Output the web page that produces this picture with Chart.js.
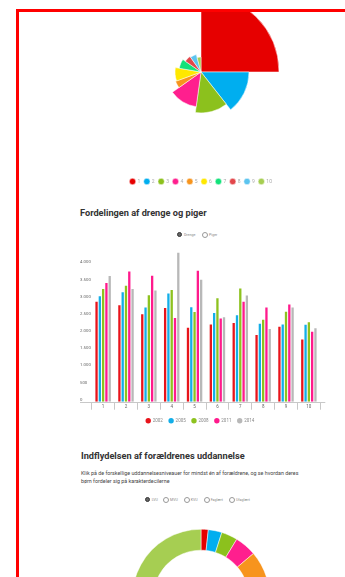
<!DOCTYPE html>
<html lang="da">
<head>
<meta charset="utf-8">
<script src="https://cdn.jsdelivr.net/npm/chart.js@4.4.1/dist/chart.umd.min.js"></script>
<style>
  html, body { margin: 0; padding: 0; background: #fff; }
  body { width: 345px; height: 577px; overflow: hidden; position: relative; font-family: Roboto, "Open Sans", sans-serif; }
  .frame { position: absolute; left: 16px; top: 9px; width: 420px; height: 700px; border-left: 3px solid #f00; border-top: 3px solid #f00; }
  .clip { position: absolute; left: 0; top: 12px; width: 345px; height: 190px; overflow: hidden; }
  #polar { position: absolute; left: 123px; top: -43px; }
  #bars { position: absolute; left: 76px; top: 245px; }
  #donut { position: absolute; left: 132px; top: 529px; }
  h2 { position: absolute; margin: 0; font-size: 9.2px; line-height: 10px; font-weight: 700; color: #333; white-space: nowrap; }
  p.lead { position: absolute; left: 81px; top: 468.5px; margin: 0; font-size: 5.35px; line-height: 8.3px; color: #444; white-space: nowrap; }
  .opt { position: absolute; font-size: 3.6px; line-height: 6px; color: #888; white-space: nowrap; }
  .opt i { position: absolute; left: -7px; top: 0; width: 4px; height: 4px; border-radius: 50%; border: 0.8px solid #999; background: #fff; }
  .opt i.on { border: 1.4px solid #333; background: #666; width: 3.2px; height: 3.2px; }
</style>
</head>
<body>
<div class="frame"></div>

<div class="clip"><canvas id="polar" width="156" height="225"></canvas></div>

<h2 style="left:80px; top:208px;">Fordelingen af drenge og piger</h2>
<span class="opt" style="left:184px; top:232px;"><i class="on"></i>Drenge</span>
<span class="opt" style="left:209px; top:232px;"><i></i>Piger</span>

<canvas id="bars" width="252" height="188"></canvas>

<h2 style="left:81px; top:450.7px;">Indflydelsen af forældrenes uddannelse</h2>
<p class="lead">Klik på de forskellige uddannelsesniveauer for mindst én af forældrene, og se hvordan deres<br>børn fordeler sig på karakterdecilerne</p>
<span class="opt" style="left:151.7px; top:497px;"><i class="on"></i>LVU</span>
<span class="opt" style="left:170px; top:497px;"><i></i>MVU</span>
<span class="opt" style="left:190.7px; top:497px;"><i></i>KVU</span>
<span class="opt" style="left:210.7px; top:497px;"><i></i>Faglært</span>
<span class="opt" style="left:236px; top:497px;"><i></i>Ufaglært</span>

<canvas id="donut" width="138" height="138"></canvas>

<script>
// Karakterdeciler 1-10 and their colours
const deciles = ['1', '2', '3', '4', '5', '6', '7', '8', '9', '10'];
const palette = ['#e60000', '#00aeef', '#8cc11d', '#ff1f8e', '#f7941d', '#ffe800', '#12e27a', '#e2474b', '#5cc4ef', '#a6ce52'];

// Top rose: share of the circle (percent) and size of each decile
const decileShare = [25, 14.4, 12.8, 13.0, 4.2, 8.3, 6.9, 5.6, 5.6, 4.2];
const decileSize = [39, 24, 20.5, 17.5, 13.5, 13, 11, 9.5, 9, 7.5];

// Drenge per decile, by year
const years = ['2002', '2005', '2008', '2011', '2014'];
const boys2002 = [2910, 2810, 2550, 2730, 2150, 2250, 2290, 1940, 2180, 1810];
const boys2005 = [3070, 3190, 2740, 3150, 2750, 2580, 2520, 2270, 2250, 2240];
const boys2008 = [3280, 3380, 3100, 3250, 2610, 3010, 3300, 2390, 2620, 2310];
const boys2011 = [3460, 3790, 3670, 2440, 3810, 2420, 2910, 2740, 2830, 2040];
const boys2014 = [3660, 3280, 3240, 4340, 3550, 2460, 3090, 2120, 2740, 2140];
const yearColors = ['#e8141b', '#13aee8', '#8dc21f', '#ff1a8c', '#b8b8b8'];
const yTicks = [0, 500, 1000, 1500, 2000, 2500, 3000, 3500, 4000];

// LVU parents: children's distribution over deciles (percent)
const lvuShare = [1.7, 3.2, 3.8, 5.1, 6.3, 7.8, 9.6, 12.2, 16.3, 34.0];

const FONT = 'Roboto';

function thousands(v) {
  return String(v).replace(/\B(?=(\d{3})+(?!\d))/g, '.');
}

// Rose chart of deciles
new Chart(document.getElementById('polar'), {
  type: 'polarArea',
  data: {
    labels: deciles,
    datasets: [{
      data: decileSize,
      backgroundColor: palette,
      borderColor: '#fff',
      borderWidth: 0.5,
      angle: ctx => decileShare[ctx.dataIndex] * 3.6
    }]
  },
  options: {
    responsive: false,
    animation: false,
    layout: { padding: 0 },
    scales: { r: { min: 0, max: 39, display: false } },
    plugins: {
      legend: {
        position: 'bottom',
        labels: {
          usePointStyle: true, pointStyle: 'circle', boxHeight: 4.5, padding: 4,
          color: '#aaa', font: { size: 5, family: FONT }
        }
      },
      tooltip: { enabled: false }
    }
  }
});

// Axis base line running under the y labels as well
const baseLine = {
  id: 'baseLine',
  afterDatasetsDraw(chart) {
    const { ctx, scales: { x, y } } = chart;
    const yy = Math.round(y.getPixelForValue(0)) + 0.5;
    ctx.save();
    ctx.strokeStyle = '#c8c8c8';
    ctx.lineWidth = 1;
    ctx.beginPath();
    ctx.moveTo(y.left, yy);
    ctx.lineTo(x.right + 5, yy);
    ctx.stroke();
    ctx.restore();
  }
};

const series = [boys2002, boys2005, boys2008, boys2011, boys2014];

new Chart(document.getElementById('bars'), {
  type: 'bar',
  data: {
    labels: deciles,
    datasets: years.map((yr, i) => ({
      label: yr,
      data: series[i],
      backgroundColor: yearColors[i],
      borderWidth: 0,
      categoryPercentage: 0.72,
      barPercentage: 0.7
    }))
  },
  plugins: [baseLine],
  options: {
    responsive: false,
    animation: false,
    layout: { padding: { left: 4, right: 7.7, top: 5.6, bottom: 0 } },
    scales: {
      x: {
        grid: { display: true, drawOnChartArea: false, drawTicks: true, tickLength: 8, color: '#c8c8c8', offset: true },
        border: { display: false },
        ticks: { color: '#666', font: { size: 4.5, family: FONT }, padding: -6, maxRotation: 0, autoSkip: false },
        afterFit: s => { s.height = 10.8; }
      },
      y: {
        min: 0,
        max: 4400,
        grid: { display: false },
        border: { display: false },
        afterBuildTicks: s => { s.ticks = yTicks.map(v => ({ value: v })); },
        ticks: {
          crossAlign: 'far', padding: 2, labelOffset: -2, color: '#666',
          font: { size: 4.3, family: FONT },
          callback: v => thousands(v)
        },
        afterFit: s => { s.width = 11.7; }
      }
    },
    plugins: {
      legend: {
        position: 'bottom',
        labels: {
          usePointStyle: true, pointStyle: 'circle', boxHeight: 3.8, padding: 6,
          color: '#888', font: { size: 4.5, family: FONT }
        }
      },
      tooltip: { enabled: false }
    }
  }
});

// Doughnut for the selected education level
new Chart(document.getElementById('donut'), {
  type: 'doughnut',
  data: {
    labels: deciles,
    datasets: [{ data: lvuShare, backgroundColor: palette, borderColor: '#fff', borderWidth: 0.5 }]
  },
  options: {
    responsive: false,
    animation: false,
    cutout: '69.5%',
    layout: { padding: 0 },
    plugins: { legend: { display: false }, tooltip: { enabled: false } }
  }
});
</script>
</body>
</html>
